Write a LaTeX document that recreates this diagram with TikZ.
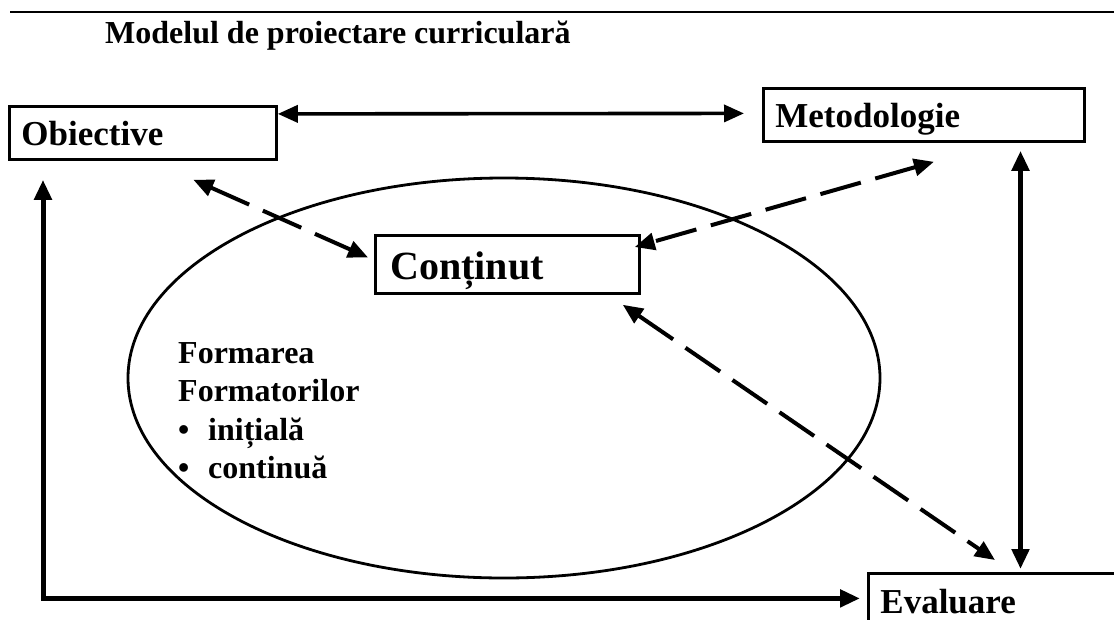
\documentclass[tikz,border=0pt]{standalone}
\usepackage{fontspec}
\setmainfont{Liberation Serif}
\usetikzlibrary{arrows.meta,calc}
\begin{document}
\begin{tikzpicture}[x=1pt,y=-1pt,
  box/.style={draw, line width=2.8pt, anchor=north west, inner xsep=12pt, inner ysep=8pt,
    text height=31pt, text depth=6pt, align=left, font=\fontsize{35}{40}\selectfont\bfseries},
  conn/.style={line width=4pt, {Triangle[length=20pt,width=17pt]}-{Triangle[length=20pt,width=17pt]}},
  dashconn/.style={conn, dash pattern=on 42pt off 15pt},
]
\useasboundingbox (0,0) rectangle (1114,619);
\path[clip] (0,0) rectangle (1114,619);
\fill[white] (0,0) rectangle (1114,619);

% top rule and title
\draw[line width=2pt] (10,11.5) -- (1114,11.5);
\node[anchor=base west, inner sep=0, font=\fontsize{32}{38}\selectfont\bfseries] (title) at (105,43) {Modelul de proiectare curriculară};

% ellipse
\draw[line width=2.8pt] (504,378) ellipse [x radius=376, y radius=200];

% boxes
\node[box, text width=243pt] (obj) at (8,105) {Obiective};
\node[box, text width=297pt] (met) at (762,87) {Metodologie};
\node[box, text width=234pt, inner xsep=15pt, text height=36pt, text depth=6pt, font=\fontsize{40}{46}\selectfont\bfseries] (cont) at (374,234) {Conținut};
\node[box, text width=274pt, text height=32pt] (eval) at (867,572) {Evaluare};

% inner text
\node[anchor=north west, inner sep=0, align=left, font=\fontsize{32}{38.5}\selectfont\bfseries] (form) at (178,342)
  {Formarea\\Formatorilor\\\makebox[30pt][l]{\textbullet}inițială\\\makebox[30pt][l]{\textbullet}continuă};

% connectors
\draw[conn, line width=3.6pt] ([yshift=19pt]obj.east) -- ([xshift=-18pt,yshift=1.5pt]met.west);
\draw[dashconn] ([xshift=50.5pt,yshift=-19pt]obj.south) -- ([xshift=-6pt,yshift=7pt]cont.west);
\draw[dashconn] ([xshift=10pt,yshift=-19pt]met.south) -- ([xshift=-6pt,yshift=-13pt]cont.north east);
\draw[dashconn] ([xshift=-18pt,yshift=-10pt]cont.south east) -- ([xshift=128pt,yshift=12pt]eval.north west);
\coordinate (mr) at ([xshift=-65.3pt,yshift=-8pt]met.south east);
\draw[conn, line width=5pt] (mr) -- ([yshift=3pt]mr |- eval.north);
\draw[conn, line width=5pt] ([xshift=35pt,yshift=-19pt]obj.south west) |- ([xshift=-7pt,yshift=2pt]eval.west);
\end{tikzpicture}
\end{document}
